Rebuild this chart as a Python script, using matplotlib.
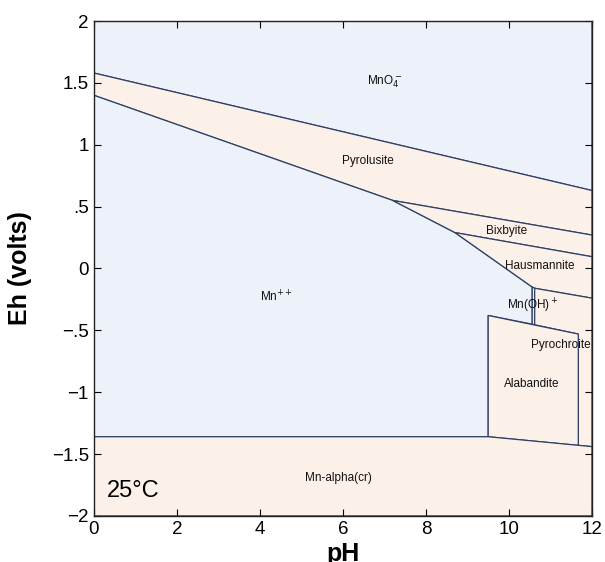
import numpy as np
import matplotlib
matplotlib.use('Agg')
import matplotlib.pyplot as plt
from matplotlib.patches import Polygon

plt.rcParams['font.family'] = ['Liberation Sans', 'DejaVu Sans']

# field boundaries (pH, Eh)
mno4 = [(0, 1.58), (12, 0.63), (12, 2.0), (0, 2.0)]
pyrolusite = [(0, 1.58), (12, 0.63), (12, 0.27), (7.2, 0.55), (0, 1.40)]
mn2 = [(0, 1.40), (7.2, 0.55), (8.7, 0.29), (10.56, -0.15), (10.56, -0.45),
       (9.5, -0.38), (9.5, -1.36), (0, -1.36)]
bixbyite = [(7.2, 0.55), (12, 0.27), (12, 0.095), (8.7, 0.29)]
hausmannite = [(8.7, 0.29), (12, 0.095), (12, -0.24), (10.62, -0.16), (10.56, -0.15)]
mnoh = [(10.56, -0.15), (10.62, -0.16), (10.62, -0.455), (10.56, -0.45)]
pyrochroite = [(10.62, -0.16), (12, -0.24), (12, -1.44), (11.67, -1.43),
               (11.67, -0.53), (10.62, -0.455)]
alabandite = [(9.5, -0.38), (11.67, -0.53), (11.67, -1.43), (9.5, -1.36)]
mn_cr = [(0, -1.36), (9.5, -1.36), (12, -1.44), (12, -2.0), (0, -2.0)]

fields = [mno4, pyrolusite, mn2, bixbyite, hausmannite, mnoh, pyrochroite, alabandite, mn_cr]
aqueous = [True, False, True, False, False, True, False, False, False]

names = ['MnO$_4^-$', 'Pyrolusite', 'Mn$^{++}$', 'Bixbyite', 'Hausmannite',
         'Mn(OH)$^+$', 'Pyrochroite', 'Alabandite', 'Mn-alpha(cr)']
name_x = [7.0, 6.6, 4.4, 9.95, 10.75, 10.58, 11.25, 10.55, 5.9]
name_y = [1.51, 0.87, -0.23, 0.30, 0.02, -0.30, -0.62, -0.93, -1.69]

yticks = [-2, -1.5, -1, -0.5, 0, 0.5, 1, 1.5, 2]
yticklabels = ['\u22122', '\u22121.5', '\u22121', '\u2212.5', '0', '.5', '1', '1.5', '2']
xticks = [0, 2, 4, 6, 8, 10, 12]

blue = '#edf1f9'
peach = '#fcf1e9'
edge = '#2e4066'

fig = plt.figure(figsize=(6.05, 5.62), dpi=100)
ax = fig.add_axes([0.155, 0.082, 0.8235, 0.8806])

for pts, aq in zip(fields, aqueous):
    ax.add_patch(Polygon(pts, closed=True, facecolor=blue if aq else peach,
                         edgecolor=edge, linewidth=0.9))

for n, x, y in zip(names, name_x, name_y):
    ax.text(x, y, n, fontsize=8.5, ha='center', va='center', color='#111111')

ax.text(0.32, -1.8, '25\u00b0C', fontsize=17, ha='left', va='center')

ax.set_xlim(0, 12)
ax.set_ylim(-2, 2)
ax.set_xticks(xticks)
ax.set_yticks(yticks)
ax.set_yticklabels(yticklabels)
ax.tick_params(direction='in', top=True, right=True, labelsize=13.5, length=5, width=0.8)
for s in ax.spines.values():
    s.set_linewidth(1.0)
    s.set_color('#222222')

ax.set_xlabel('pH', fontsize=18, fontweight='bold', labelpad=3)
ax.set_ylabel('Eh (volts)', fontsize=18, fontweight='bold', labelpad=14)

fig.savefig('out.png', dpi=100)
